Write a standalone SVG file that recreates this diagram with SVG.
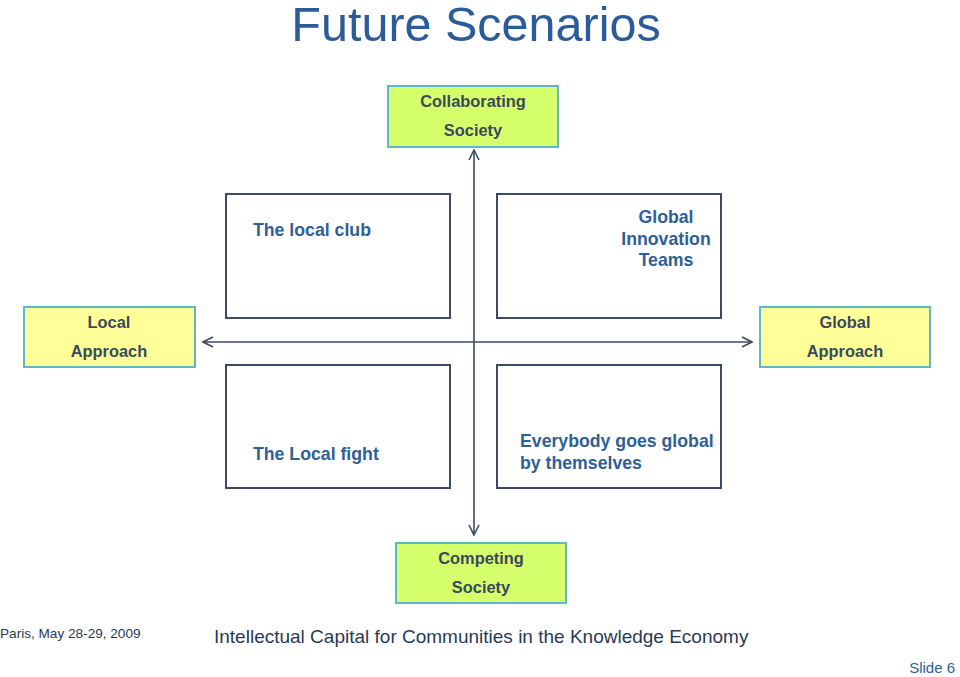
<svg xmlns="http://www.w3.org/2000/svg" width="960" height="677" viewBox="0 0 960 677">
<defs>
<style>
.lbl{font-family:"Liberation Sans",Arial,sans-serif;font-weight:bold;font-size:16.4px;fill:#3b4a5a;text-anchor:middle}
.q{font-family:"Liberation Sans",Arial,sans-serif;font-weight:bold;font-size:17.7px;fill:#2e5f97}
.lime{fill:#d5ff6b;stroke:#62b6cc;stroke-width:2}
.yel{fill:#ffff99;stroke:#62b6cc;stroke-width:2}
.quad{fill:#ffffff;stroke:#3d4a63;stroke-width:2}
.axis{stroke:#3d4a63;stroke-width:1.6;fill:none}
</style>
<marker id="arr" viewBox="0 0 12 12" refX="11" refY="6" markerWidth="12" markerHeight="12" markerUnits="userSpaceOnUse" orient="auto-start-reverse">
<polyline points="1,1 11,6 1,11" fill="none" stroke="#3d4a63" stroke-width="1.6"/>
</marker>
</defs>
<rect width="960" height="677" fill="#ffffff"/>
<text x="476" y="41" font-family="Liberation Sans,Arial,sans-serif" font-size="48.5" fill="#2a5b9a" text-anchor="middle">Future Scenarios</text>
<g id="connectors">
<line class="axis" x1="474" y1="150" x2="474" y2="535" marker-start="url(#arr)" marker-end="url(#arr)"/>
<line class="axis" x1="203" y1="342" x2="752" y2="342" marker-start="url(#arr)" marker-end="url(#arr)"/>
</g>
<g id="collaborating">
<rect class="lime" x="388" y="86" width="170" height="61"/>
<text class="lbl" x="473" y="107">Collaborating</text>
<text class="lbl" x="473" y="136">Society</text>
</g>
<g id="local-approach">
<rect class="yel" x="24" y="307" width="171" height="60"/>
<text class="lbl" x="109" y="328">Local</text>
<text class="lbl" x="109" y="357">Approach</text>
</g>
<g id="global-approach">
<rect class="yel" x="760" y="307" width="170" height="60"/>
<text class="lbl" x="845" y="328">Global</text>
<text class="lbl" x="845" y="357">Approach</text>
</g>
<g id="competing">
<rect class="lime" x="396" y="543" width="170" height="60"/>
<text class="lbl" x="481" y="564">Competing</text>
<text class="lbl" x="481" y="593">Society</text>
</g>
<g id="local-club">
<rect class="quad" x="226" y="194" width="224" height="124"/>
<text class="q" x="253" y="236">The local club</text>
</g>
<g id="global-innovation">
<rect class="quad" x="497" y="194" width="224" height="124"/>
<text class="q" x="666" y="223" text-anchor="middle">Global</text>
<text class="q" x="666" y="245" text-anchor="middle">Innovation</text>
<text class="q" x="666" y="266" text-anchor="middle">Teams</text>
</g>
<g id="local-fight">
<rect class="quad" x="226" y="365" width="224" height="123"/>
<text class="q" x="253" y="460">The Local fight</text>
</g>
<g id="everybody-global">
<rect class="quad" x="497" y="365" width="224" height="123"/>
<text class="q" x="520" y="447">Everybody goes global</text>
<text class="q" x="520" y="469">by themselves</text>
</g>
<text x="0" y="638" font-family="Liberation Sans,Arial,sans-serif" font-size="13.6" fill="#2a3a55">Paris, May 28-29, 2009</text>
<text x="214" y="643" font-family="Liberation Sans,Arial,sans-serif" font-size="19" fill="#2a3a55">Intellectual Capital for Communities in the Knowledge Economy</text>
<text x="955" y="673" font-family="Liberation Sans,Arial,sans-serif" font-size="15" fill="#2e5f97" text-anchor="end">Slide 6</text>
</svg>
